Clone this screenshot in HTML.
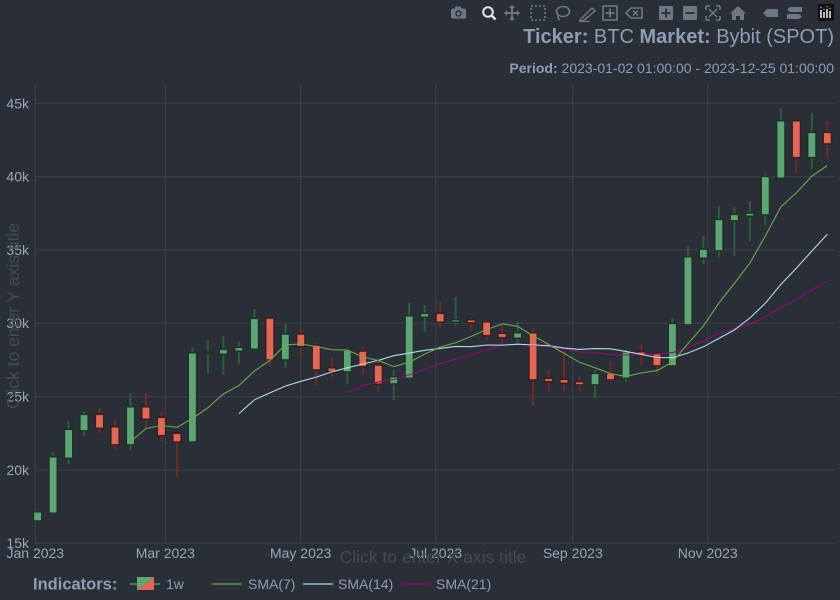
<!DOCTYPE html>
<html><head><meta charset="utf-8"><style>
html,body{margin:0;padding:0;background:#2a2e36;}
svg{display:block;font-family:"Liberation Sans",sans-serif;}
</style></head><body>
<svg id="s" width="840" height="600" viewBox="0 0 840 600" xmlns="http://www.w3.org/2000/svg">
<rect width="840" height="600" fill="#2a2e36"/>
<g id="grid" stroke="#3c414b" stroke-width="1"></g>
<g id="yt" fill="#98a5b7" font-size="14" text-anchor="end">
<text x="29" y="108.3">45k</text>
<text x="29" y="181.6">40k</text>
<text x="29" y="254.9">35k</text>
<text x="29" y="328.2">30k</text>
<text x="29" y="401.6">25k</text>
<text x="29" y="474.9">20k</text>
<text x="29" y="548.2">15k</text>
</g>
<g fill="#98a5b7" font-size="14" text-anchor="middle">
<text x="35.3" y="558">Jan 2023</text>
<text x="165.3" y="558">Mar 2023</text>
<text x="300.7" y="558">May 2023</text>
<text x="435.7" y="558">Jul 2023</text>
<text x="572.8" y="558">Sep 2023</text>
<text x="707.7" y="558">Nov 2023</text>
</g>
<text x="433" y="563" fill="#434a57" font-size="17.5" text-anchor="middle">Click to enter X axis title</text>
<text transform="translate(19,316) rotate(-90)" fill="#434a57" font-size="17.5" text-anchor="middle">Click to enter Y axis title</text>
<g id="c"></g>
<g id="lines" fill="none" stroke-width="1.1"></g>
<!-- title -->
<text x="834" y="43" fill="#8d9db4" font-size="20" text-anchor="end"><tspan font-weight="bold">Ticker:</tspan> BTC <tspan font-weight="bold">Market:</tspan> Bybit (SPOT)</text>
<text x="834" y="73" fill="#8d9db4" font-size="14" text-anchor="end"><tspan font-weight="bold">Period:</tspan> 2023-01-02 01:00:00 - 2023-12-25 01:00:00</text>
<!-- legend -->
<text x="33" y="589.5" fill="#8d9db4" font-size="16.5" font-weight="bold">Indicators:</text>
<line x1="130" y1="584" x2="160" y2="584" stroke="#4a7a5a" stroke-width="2"/>
<polygon points="137,577 154,577 137,590" fill="#5ea477"/>
<polygon points="154,577 154,590 137,590" fill="#e0685a"/>
<text x="166" y="589" fill="#8d9db4" font-size="14">1w</text>
<line x1="212" y1="584" x2="242" y2="584" stroke="#6da651" stroke-width="1.2"/>
<text x="248" y="589" fill="#8d9db4" font-size="14">SMA(7)</text>
<line x1="303" y1="584" x2="333" y2="584" stroke="#b4dbe8" stroke-width="1.2"/>
<text x="338" y="589" fill="#8d9db4" font-size="14">SMA(14)</text>
<line x1="401" y1="584" x2="431" y2="584" stroke="#8c0f6e" stroke-width="1.2"/>
<text x="436" y="589" fill="#8d9db4" font-size="14">SMA(21)</text>
<!-- toolbar -->
<g fill="#6e7785" stroke="none">
<!-- camera -->
<rect x="451" y="8.5" width="15" height="10" rx="1.5"/>
<rect x="455" y="6.5" width="6" height="3" rx="1"/>
<circle cx="458.5" cy="13.5" r="3.2" fill="#2a2e36"/>
<circle cx="458.5" cy="13.5" r="1.8"/>
<!-- zoom (active) -->
<circle cx="488" cy="12" r="4.8" fill="none" stroke="#dfe3ea" stroke-width="2"/>
<line x1="491.5" y1="15.5" x2="495.5" y2="19.5" stroke="#dfe3ea" stroke-width="2.5"/>
<!-- pan -->
<path d="M512 5 L515 8 L513 8 L513 12 L517 12 L517 10 L520 13 L517 16 L517 14 L513 14 L513 18 L515 18 L512 21 L509 18 L511 18 L511 14 L507 14 L507 16 L504 13 L507 10 L507 12 L511 12 L511 8 L509 8 Z"/>
<!-- box select -->
<rect x="531" y="6" width="14" height="14" fill="none" stroke="#6e7785" stroke-width="1.6" stroke-dasharray="2,2"/>
<!-- lasso -->
<ellipse cx="563" cy="11.5" rx="6.5" ry="5" fill="none" stroke="#6e7785" stroke-width="1.6"/>
<path d="M558 15 Q557 19 560 20" fill="none" stroke="#6e7785" stroke-width="1.5"/>
<!-- draw -->
<path d="M580 20 L592 8 L595 11 L583 21 Z" fill="none" stroke="#6e7785" stroke-width="1.5"/>
<line x1="579" y1="21.5" x2="590" y2="21.5" stroke="#6e7785" stroke-width="1.2"/>
<!-- plus square -->
<rect x="603" y="6" width="14" height="14" fill="none" stroke="#6e7785" stroke-width="1.6"/>
<rect x="609.2" y="8.5" width="1.8" height="9"/>
<rect x="605.5" y="12.2" width="9" height="1.8"/>
<!-- erase -->
<path d="M626 13 L631 8 L642 8 L642 18 L631 18 Z" fill="none" stroke="#6e7785" stroke-width="1.6"/>
<path d="M633 10.5 L638 15.5 M638 10.5 L633 15.5" stroke="#6e7785" stroke-width="1.5"/>
<!-- zoom in -->
<rect x="659" y="6" width="14" height="14" rx="1.5"/>
<rect x="665.2" y="8.5" width="1.8" height="9" fill="#2a2e36"/>
<rect x="661.5" y="12.2" width="9" height="1.8" fill="#2a2e36"/>
<!-- zoom out -->
<rect x="683" y="6" width="14" height="14" rx="1.5"/>
<rect x="685.5" y="12.2" width="9" height="1.8" fill="#2a2e36"/>
<!-- autoscale -->
<path d="M706 6 L710 6 M706 6 L706 10 M720 6 L716 6 M720 6 L720 10 M706 20 L710 20 M706 20 L706 16 M720 20 L716 20 M720 20 L720 16 M709 9 L717 17 M717 9 L709 17" fill="none" stroke="#6e7785" stroke-width="1.5"/>
<!-- home -->
<path d="M730 13.5 L738 6 L746 13.5 L744 13.5 L744 20 L740 20 L740 16 L736 16 L736 20 L732 20 L732 13.5 Z"/>
<!-- spike -->
<path d="M767 9 L778 9 L778 17 L767 17 L763 13 Z"/>
<!-- compare -->
<path d="M790 7 L802 7 L802 12 L790 12 L787 9.5 Z"/>
<path d="M787 14 L799 14 L802 16.5 L799 19 L787 19 Z"/>
</g>
<rect x="818" y="4" width="16" height="17" rx="2" fill="#111"/>
<g stroke-width="1.4">
<line x1="821" y1="10" x2="821" y2="18" stroke="#fff"/>
<line x1="824" y1="12" x2="824" y2="18" stroke="#fff"/>
<line x1="827" y1="9" x2="827" y2="18" stroke="#fff"/>
<line x1="830" y1="11" x2="830" y2="18" stroke="#fff"/>
<circle cx="821" cy="7.5" r="0.9" fill="#e763fa" stroke="none"/>
<circle cx="824" cy="9.5" r="0.9" fill="#ab63fa" stroke="none"/>
<circle cx="827" cy="6.5" r="0.9" fill="#ef553b" stroke="none"/>
<circle cx="830" cy="8.5" r="0.9" fill="#00cc96" stroke="none"/>
</g>
</svg>
<script>
(function(){
var NS="http://www.w3.org/2000/svg";
function el(t,a,p){var e=document.createElementNS(NS,t);for(var k in a)e.setAttribute(k,a[k]);p.appendChild(e);return e;}
function Y(v){return 543.3-(v-15000)*0.014667;}
var grid=document.getElementById('grid');
[15000,20000,25000,30000,35000,40000,45000].forEach(function(v){var y=Y(v);el('line',{x1:35.3,x2:835,y1:y,y2:y},grid);});
[35.3,165.3,300.7,435.7,572.8,707.7].forEach(function(x){el('line',{x1:x,x2:x,y1:85,y2:543.3},grid);});
var D=[
[16520,17180,16500,17154],[17045,21204,17000,20905],[20795,23339,20386,22773],[22657,23973,22316,23795],
[23795,24245,22452,22841],[22950,23454,21430,21702],[21700,25227,21314,24313],[24313,25250,22793,23454],
[23591,23973,21975,22336],[22500,22568,19541,21907],[21900,28363,21800,27995],[27907,28861,26591,28022],
[27886,29134,26475,28227],[28091,28745,27225,28363],[28227,30975,28132,30341],[30361,30450,27088,27497],
[27497,30000,26973,29270],[29270,29816,27681,28404],[28520,28677,25793,26816],[26973,27634,26359,26700],
[26680,28295,25861,28180],[28111,28404,26475,27041],[27157,27382,25336,25841],[25861,26816,24770,26359],
[26250,31404,26181,30518],[30409,31247,29427,30682],[30682,31473,29659,30068],[30068,31813,29884,30245],
[30245,30382,29495,30020],[30109,30109,28861,29154],[29318,30041,28588,29018],[28977,30177,28636,29359],
[29359,29659,24361,26134],[26250,26816,25336,26018],[26181,28132,25336,25909],[26018,26407,25384,25793],
[25793,26816,24886,26591],[26591,27429,26018,26134],[26250,28180,26018,28063],[28063,28588,27157,27838],
[27954,27954,26543,27088],[27088,30341,27041,30000],[29884,35291,29836,34541],[34432,35952,34022,35066],
[34929,37998,34500,37090],[36975,37909,34588,37431],[37295,38338,35611,37520],[37384,40227,36702,40022],
[39886,44659,39886,43813],[43813,43813,40227,41291],[41291,44359,40520,43022],[43022,43793,41250,42225]];
var g=document.getElementById('c');
var X=function(i){return 37.6+15.484*i;};
D.forEach(function(d,i){
 var x=X(i),o=d[0],h=d[1],l=d[2],c=d[3],up=c>=o;
 var wick=up?'#2e5c40':'#6b2b27',bord=up?'#1d3326':'#3b1f1d',fill=up?'#5ea477':'#e0685a';
 el('line',{x1:x,x2:x,y1:Y(h),y2:Y(l),stroke:wick,'stroke-width':2},g);
 var yt=Y(Math.max(o,c)),yb=Y(Math.min(o,c));
 if(yb-yt<1.5){var m=(yt+yb)/2;yt=m-0.75;yb=m+0.75;}
 el('rect',{x:x-4.2,y:yt,width:8.4,height:yb-yt,fill:fill,stroke:bord,'stroke-width':1.6},g);
});
var L=document.getElementById('lines');
function sma(n,col){var pts=[];for(var i=n-1;i<D.length;i++){var s=0;for(var j=i-n+1;j<=i;j++)s+=D[j][3];pts.push(X(i).toFixed(1)+','+Y(s/n).toFixed(1));}
 el('polyline',{points:pts.join(' '),stroke:col},L);}
sma(21,'#8c0f6e');sma(14,'#b4dbe8');sma(7,'#6da651');
})();
</script>
</body></html>
